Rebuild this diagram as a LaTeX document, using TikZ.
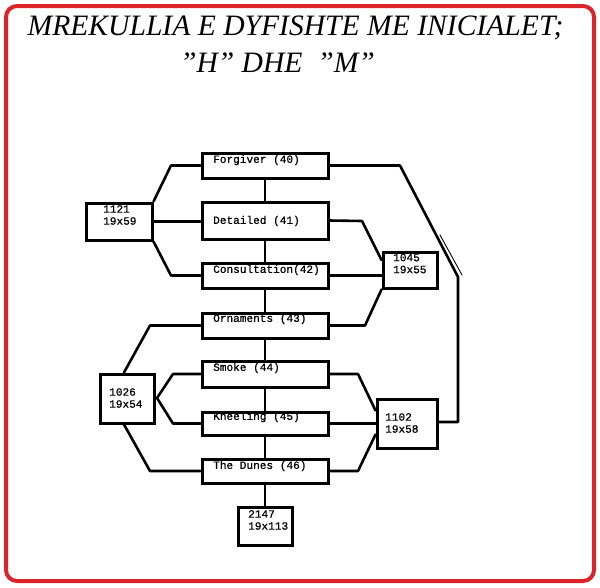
\documentclass[tikz,border=0pt]{standalone}
\usepackage{fontspec}
\setmainfont{Liberation Serif}
\newfontfamily\boxfont[FakeBold=0.8]{Liberation Mono}
\definecolor{frame}{RGB}{220,36,44}
\newcommand{\qq}{\symbol{34}}
\tikzset{
    box/.style={draw, line width=3pt, fill=white, inner sep=0pt},
    wire/.style={line width=2.6pt, line join=round},
    lbl/.style={anchor=west, inner sep=0pt, align=left, font=\boxfont\fontsize{11.1}{12}\selectfont},
}
\begin{document}
\begin{tikzpicture}[x=1pt, y=-1pt, line cap=round]
    \useasboundingbox (0,0) rectangle (600,587);
    \draw[frame, line width=4pt, rounded corners=11pt] (6,6) rectangle (594,581);
    % title
    \node (title1) at (295.5,35) [anchor=base, inner sep=0pt, font=\itshape\fontsize{29.6}{30}\selectfont] {MREKULLIA E DYFISHTE ME INICIALET;};
    \node (title2) at (277.5,72) [anchor=base, inner sep=0pt, font=\itshape\fontsize{29.6}{30}\selectfont] {\qq H\qq{} DHE\ \ \qq M\qq};
    % the seven titles down the middle
    \node[box, minimum width=126pt, minimum height=25pt] (forgiver) at (265,165.5) {};
    \node[box, minimum width=126pt, minimum height=37pt] (detailed) at (265,220.5) {};
    \node[box, minimum width=126pt, minimum height=25pt] (consult) at (265,275.5) {};
    \node[box, minimum width=126pt, minimum height=25pt] (ornam) at (265,325.5) {};
    \node[box, minimum width=126pt, minimum height=26pt] (smoke) at (265,374) {};
    \node[box, minimum width=126pt, minimum height=23pt] (kneel) at (265,423.5) {};
    \node[box, minimum width=126pt, minimum height=24pt] (dunes) at (265,471) {};
    % the sums
    \node[box, minimum width=66pt, minimum height=37pt] (b1121) at (119,221.5) {};
    \node[box, minimum width=54pt, minimum height=49pt] (b1026) at (127,398.5) {};
    \node[box, minimum width=54pt, minimum height=36pt] (b1045) at (410,270) {};
    \node[box, minimum width=60pt, minimum height=49pt] (b1102) at (407,423.5) {};
    \node[box, minimum width=54pt, minimum height=38pt] (b2147) at (265,526) {};
    % texts
    \node[lbl] (t40) at (213,160) {Forgiver (40)};
    \node[lbl] (t41) at (213,221) {Detailed (41)};
    \node[lbl] (t42) at (213,270) {Consultation(42)};
    \node[lbl] (t43) at (213,319) {Ornaments (43)};
    \node[lbl] (t44) at (213,368) {Smoke (44)};
    \node[lbl] (t45) at (213,417) {Kneeling (45)};
    \node[lbl] (t46) at (213,466) {The Dunes (46)};
    \node[lbl] (t1121) at (103,215) {1121\\19x59};
    \node[lbl] (t1026) at (109,398) {1026\\19x54};
    \node[lbl] (t1045) at (393,263.5) {1045\\19x55};
    \node[lbl] (t1102) at (385,423) {1102\\19x58};
    \node[lbl] (t2147) at (248,520) {2147\\19x113};
    % spine
    \foreach \a/\b in {forgiver/detailed, detailed/consult, consult/ornam, ornam/smoke, smoke/kneel, kneel/dunes, dunes/b2147}
        \draw[wire] (\a) -- (\b);
    % left side
    \draw[wire] (b1121.north east) -- (171,165.5) -- (forgiver.west);
    \draw[wire] (b1121.east) -- (b1121.east -| detailed.west);
    \draw[wire] (b1121.south east) -- (171,275.5) -- (consult.west);
    \draw[wire] ([xshift=-3pt]b1026.north) -- (150,325.5) -- (ornam.west);
    \draw[wire] ([xshift=-3pt]b1026.south) -- (150,471) -- (dunes.west);
    \draw[wire] (smoke.west) -- (173,374) -- (157,398) -- (173,423.5) -- (kneel.west);
    % right side
    \draw[wire] (forgiver.east) -- (400,165.5) -- (458,277) -- (458,422) -- (b1102.east |- 0,422);
    \draw[line width=0.9pt] (440,235) -- (462,275);
    \draw[wire] (detailed.east) -- (362,221) -- ([yshift=10pt]b1045.west);
    \draw[wire] (consult.east) -- (consult.east -| b1045.west);
    \draw[wire] (ornam.east) -- (365,325.5) -- (b1045.south west);
    \draw[wire] (smoke.east) -- (358,374) -- ([yshift=13pt]b1102.west);
    \draw[wire] (kneel.east) -- (b1102.west);
    \draw[wire] (dunes.east) -- (358,471) -- ([yshift=-11pt]b1102.west);
\end{tikzpicture}
\end{document}
